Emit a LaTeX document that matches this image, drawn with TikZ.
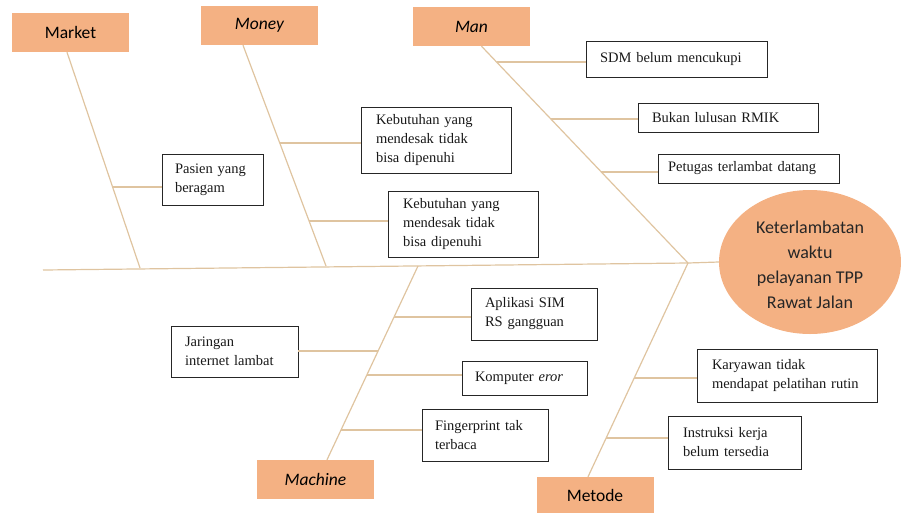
\documentclass[tikz,border=0pt]{standalone}
\usepackage{fontspec}
\setmainfont{Liberation Serif}
\newfontfamily\timesbox{Liberation Serif}
\newfontfamily\carlito{Carlito}
\usetikzlibrary{shapes.geometric}
\definecolor{fishorange}{HTML}{F4B183}
\definecolor{bonetan}{HTML}{DFC4A0}
\tikzset{bone/.style={draw=bonetan, line width=1.2pt}}
\tikzset{cat/.style={fill=fishorange, minimum width=117pt, minimum height=39pt, inner sep=0pt, font=\carlito\fontsize{17.5}{21}\selectfont}}
\tikzset{cause/.style={draw=black!85, line width=0.9pt, fill=white, align=left, inner ysep=2pt, text=black!90, font=\timesbox\fontsize{14.5}{19}\selectfont}}
\tikzset{effect/.style={ellipse, fill=fishorange, minimum width=182pt, minimum height=144pt, inner sep=0pt, align=center, text=black!85, font=\carlito\fontsize{18}{25}\selectfont}}

\begin{document}
\begin{tikzpicture}[x=1pt,y=-1pt]
        \useasboundingbox (0,0) rectangle (901,512);

        \node[cat] (market) at (70.5,32.5) {Market};
        \node[cat] (money) at (259.5,25.5) {\itshape Money};
        \node[cat] (man) at (471.5,26.5) {\itshape Man};
        \node[cat] (machine) at (315.5,479.5) {\itshape Machine};
        \node[cat, minimum height=36pt] (metode) at (595,495) {Metode};

        \node[effect] (effect) at (810,262) {\\[-6pt]Keterlambatan\\waktu\\pelayanan TPP\\Rawat Jalan};

        \node[cause, text width=75pt, inner xsep=13pt, minimum height=51pt] (pasien) at (212.5,179.5) {Pasien yang\\beragam};
        \node[cause, text width=120pt, inner xsep=15pt, minimum height=66pt] (keb1) at (436,140) {Kebutuhan yang\\mendesak tidak\\bisa dipenuhi};
        \node[cause, text width=120pt, inner xsep=15pt, minimum height=66pt] (keb2) at (463,224) {Kebutuhan yang\\mendesak tidak\\bisa dipenuhi};

        \node[cause, text width=153pt, inner xsep=14pt, minimum height=36pt] (sdm) at (676.5,59) {SDM belum mencukupi};
        \node[cause, text width=152pt, inner xsep=14pt, minimum height=29pt] (bukan) at (728,117.5) {Bukan lulusan RMIK};
        \node[cause, text width=161pt, inner xsep=10pt, minimum height=29pt] (petugas) at (748.5,168.5) {Petugas terlambat datang};

        \node[cause, text width=99pt, inner xsep=14pt, minimum height=51pt] (jaringan) at (234.5,351.5) {Jaringan\\internet lambat};
        \node[cause, text width=98pt, inner xsep=14pt, minimum height=52pt] (aplikasi) at (534,314) {Aplikasi SIM\\RS gangguan};
        \node[cause, text width=99pt, inner xsep=13pt, minimum height=34pt] (komputer) at (524.5,378) {Komputer \textit{eror}};
        \node[cause, text width=100pt, inner xsep=13pt, minimum height=52pt] (finger) at (485,435) {Fingerprint tak\\terbaca};

        \node[cause, text width=150pt, inner xsep=15pt, minimum height=53pt] (karyawan) at (787,375.5) {Karyawan tidak\\mendapat pelatihan rutin};
        \node[cause, text width=103pt, inner xsep=15pt, minimum height=53pt] (instruksi) at (734.5,442.5) {Instruksi kerja\\belum tersedia};

        \coordinate (tail) at (43,270);
        \coordinate (joint) at (688,263);
        \coordinate (mkfoot) at (140,268);
        \coordinate (mofoot) at (326,266);
        \coordinate (mafoot) at (418,266);

        \coordinate (mk1) at (113,187);
        \coordinate (mo1) at (280,143);
        \coordinate (mo2) at (309,221);
        \coordinate (mn1) at (497,62);
        \coordinate (mn2) at (551,119);
        \coordinate (mn3) at (601,172);
        \coordinate (ma1) at (378,351);
        \coordinate (ma2) at (394,317);
        \coordinate (ma3) at (367,375);
        \coordinate (ma4) at (341,430);
        \coordinate (me1) at (634,378);
        \coordinate (me2) at (606,438);

        \draw[bone] (tail) -- (joint) -- (effect.west);

        \draw[bone] ([xshift=-3.5pt]market.south) -- (mkfoot);
        \draw[bone] ([xshift=-16.5pt]money.south) -- (mofoot);
        \draw[bone] ([xshift=10pt]man.south) -- (joint);
        \draw[bone] ([xshift=11.5pt]machine.north) -- (mafoot);
        \draw[bone] ([xshift=-7pt]metode.north) -- (joint);

        \draw[bone] (mk1) -- (mk1 -| pasien.west);
        \draw[bone] (mo1) -- (mo1 -| keb1.west);
        \draw[bone] (mo2) -- (mo2 -| keb2.west);
        \draw[bone] (mn1) -- (mn1 -| sdm.west);
        \draw[bone] (mn2) -- (mn2 -| bukan.west);
        \draw[bone] (mn3) -- (mn3 -| petugas.west);
        \draw[bone] (jaringan.east |- ma1) -- (ma1);
        \draw[bone] (ma2) -- (ma2 -| aplikasi.west);
        \draw[bone] (ma3) -- (ma3 -| komputer.west);
        \draw[bone] (ma4) -- (ma4 -| finger.west);
        \draw[bone] (me1) -- (me1 -| karyawan.west);
        \draw[bone] (me2) -- (me2 -| instruksi.west);
    \end{tikzpicture}
\end{document}
